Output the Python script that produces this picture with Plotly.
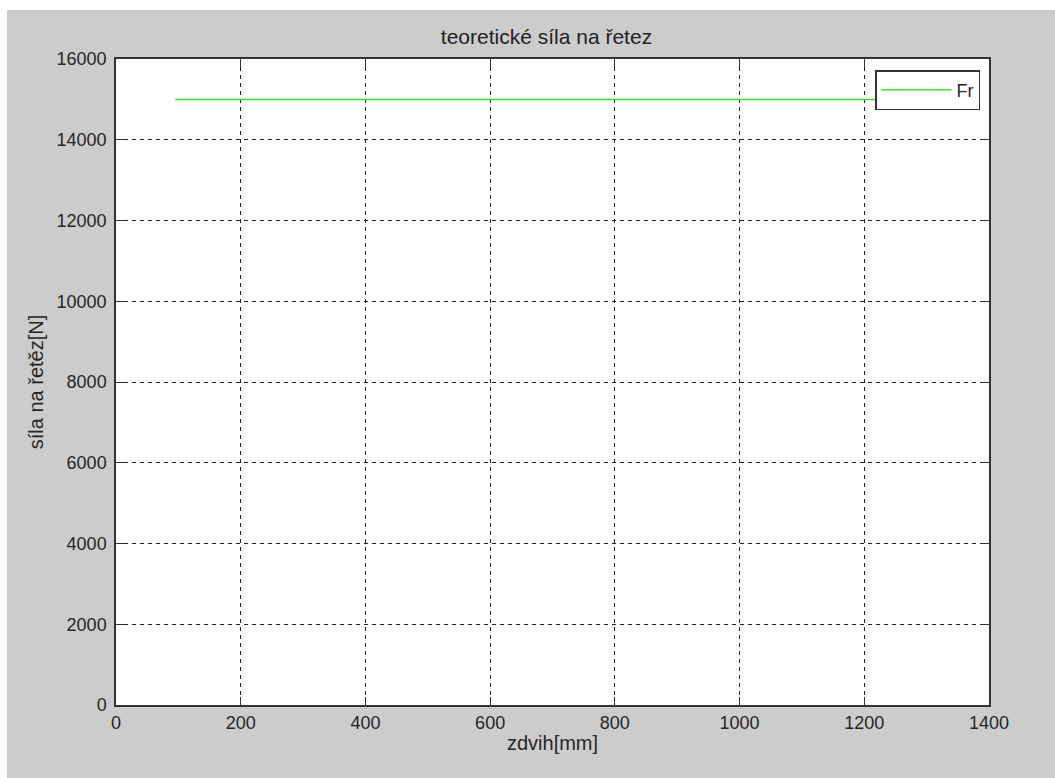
import plotly.graph_objects as go

# Data
zdvih = [95, 400, 800, 1250]             # x values [mm]
sila_Fr = [15000, 15000, 15000, 15000]   # force [N]
series_name = "Fr"

x_ticks = [0, 200, 400, 600, 800, 1000, 1200, 1400]
y_ticks = [0, 2000, 4000, 6000, 8000, 10000, 12000, 14000, 16000]
y_tick_labels = [str(v) for v in y_ticks]
x_tick_labels = [str(v) for v in x_ticks]

W, H = 1055, 778
L, R, T, B = 116, 66, 59, 73
pw, ph = W - L - R, H - T - B

font = "Liberation Sans, Arial, sans-serif"
fc = "#262626"
fs_tick = 18
fs_label = 20

fig = go.Figure()
fig.add_trace(go.Scatter(x=zdvih, y=sila_Fr, mode="lines", name=series_name,
                         line=dict(color="#3ae23a", width=1.5)))

axis_common = dict(
    showline=True, linecolor="#333333", linewidth=1.5, mirror="ticks",
    ticks="inside", ticklen=8, tickcolor="#333333", tickwidth=1,
    showgrid=True, gridcolor="#222222", gridwidth=1, griddash="4px,4px",
    zeroline=False, tickfont=dict(family=font, size=fs_tick, color=fc),
)

fig.update_layout(
    width=W, height=H,
    margin=dict(l=L, r=R, t=T, b=B, autoexpand=False),
    paper_bgcolor="#cccccc", plot_bgcolor="white",
    title=dict(text="teoretické síla na řetez", x=(L + pw / 2 - 6) / W, xanchor="center",
               y=1 - 37 / H, yanchor="middle",
               font=dict(family=font, size=21, color="#222222")),
    xaxis=dict(range=[0, 1400], tickvals=x_ticks, ticktext=x_tick_labels,
               ticklabelstandoff=1,
               title=dict(text="zdvih[mm]", font=dict(family=font, size=fs_label, color=fc), standoff=4),
               **axis_common),
    yaxis=dict(range=[0, 16000], tickvals=y_ticks, ticktext=y_tick_labels,
               ticklabelstandoff=4,
               title=dict(text="síla na řetěz[N]", font=dict(family=font, size=fs_label, color=fc), standoff=8),
               **axis_common),
    showlegend=True,
    legend=dict(x=(980 - L) / pw, xanchor="right", y=(H - B - 70) / ph, yanchor="top",
                bgcolor="white", bordercolor="#333333", borderwidth=1.5,
                font=dict(family=font, size=fs_tick, color=fc), itemwidth=70,
                tracegroupgap=0),
)

# white strips at the top and left edge of the window (outside the figure frame)
fig.add_shape(type="rect", xref="paper", yref="paper",
              x0=-L / pw - 0.01, x1=(7 - L) / pw, y0=-B / ph - 0.01, y1=(H - B) / ph + 0.01,
              fillcolor="white", line=dict(width=0), layer="above")
fig.add_shape(type="rect", xref="paper", yref="paper",
              x0=-L / pw - 0.01, x1=(W - L) / pw + 0.01, y0=(H - B - 10) / ph, y1=(H - B) / ph + 0.01,
              fillcolor="white", line=dict(width=0), layer="above")

fig.write_html(
    "out.html",
    config={"displayModeBar": False},
    post_script="document.body.style.margin='0';document.body.style.overflow='hidden';",
)
